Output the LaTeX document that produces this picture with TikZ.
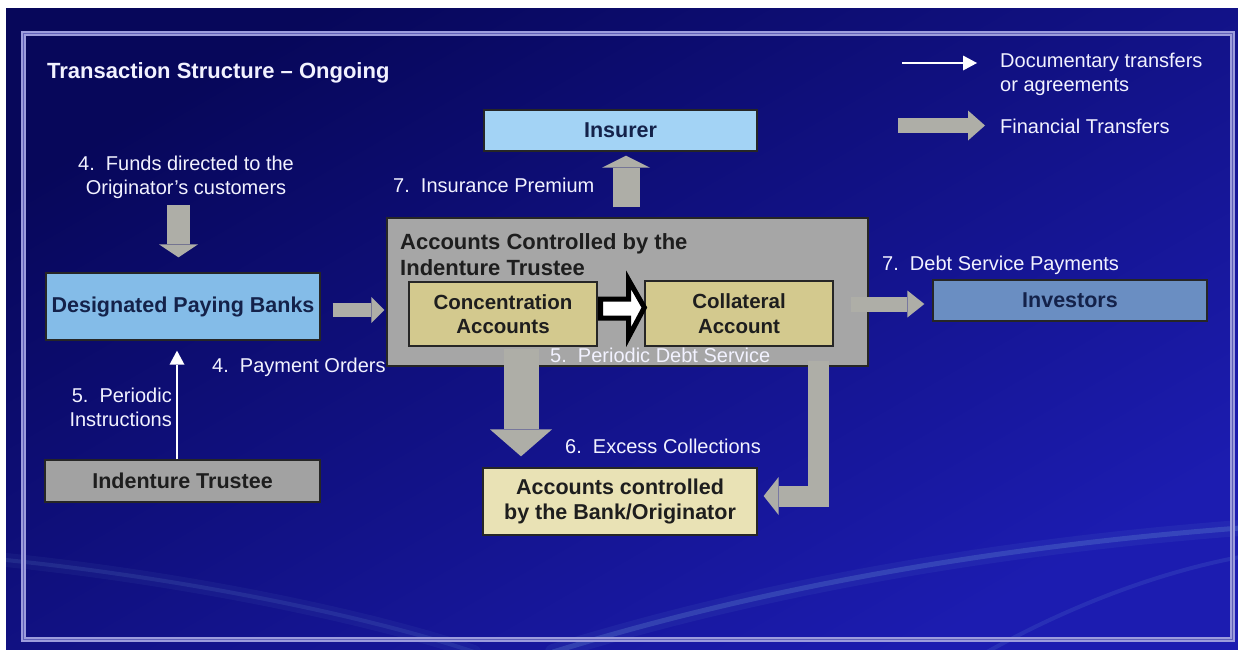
\documentclass[tikz,border=0pt]{standalone}
\usepackage{fontspec}
\setmainfont{Liberation Sans}
\usetikzlibrary{arrows.meta,calc}
\definecolor{bgtop}{HTML}{07075A}
\definecolor{bgbot}{HTML}{1C1CB0}
\definecolor{framec}{HTML}{9C9CDC}
\definecolor{framein}{HTML}{6060B8}
\definecolor{insblue}{HTML}{A3D3F5}
\definecolor{dpbblue}{HTML}{84BCE8}
\definecolor{invblue}{HTML}{6A8EC2}
\definecolor{navytext}{HTML}{14224A}
\definecolor{boxgray}{HTML}{A6A6A6}
\definecolor{trgray}{HTML}{A2A2A2}
\definecolor{khaki}{HTML}{D3C98E}
\definecolor{palekhaki}{HTML}{E9E2B5}
\definecolor{arrowgray}{HTML}{AEAEA7}
\definecolor{labelwhite}{HTML}{F2F2FF}
\definecolor{darktext}{HTML}{1E1E1E}
\definecolor{swooshc}{HTML}{7BB0E0}
\begin{document}
\begin{tikzpicture}[x=1pt,y=-1pt,
  box/.style={draw=black!85, line width=1.3pt, inner sep=0pt, align=center,
     font=\fontsize{21.5}{25}\selectfont\bfseries, text=darktext},
  ibox/.style={box, font=\fontsize{20.5}{24.5}\selectfont\bfseries},
  lbl/.style={text=labelwhite, inner sep=0pt, font=\fontsize{20}{24}\selectfont},
  slbl/.style={lbl, anchor=west, text height=14pt, text depth=0pt},
  fin/.style n args={3}{draw=arrowgray, line width=#1, line cap=butt,
     -{Triangle[width=#2,length=#3,line width=0pt]}},
  doc/.style={draw=white, line width=2pt, -{Triangle[width=15pt,length=14pt,line width=0pt]}},
  swoosh/.style={draw=swooshc, line cap=round}
]
\useasboundingbox (0,0) rectangle (1238,649);
\fill[white] (0,0) rectangle (1238,649);
\shade[top color=bgtop, bottom color=bgbot, shading angle=30] (6,8) rectangle (1238,649);
% background swooshes
\begin{scope}
  \clip (6,8) rectangle (1238,649);
  \draw[swoosh, line width=16pt, opacity=0.08] (553,652) .. controls (720,600) and (950,550) .. (1240,528);
  \draw[swoosh, line width=5pt, opacity=0.22] (553,652) .. controls (720,600) and (950,550) .. (1240,528);
  \draw[swoosh, line width=14pt, opacity=0.06] (6,560) .. controls (200,580) and (380,620) .. (474,652);
  \draw[swoosh, line width=4pt, opacity=0.12] (6,560) .. controls (200,580) and (380,620) .. (474,652);
  \draw[swoosh, line width=4pt, opacity=0.13] (987,652) .. controls (1080,600) and (1170,570) .. (1240,557);
\end{scope}
% frame
\draw[framec, line width=1.8pt, double=framein, double distance=1.2pt] (23.5,33.5) rectangle (1232.5,639.5);

% title and legend
\node[anchor=base west, inner sep=0pt, font=\fontsize{22}{26}\selectfont\bfseries, text=labelwhite] (title) at (47,78) {Transaction Structure – Ongoing};
\coordinate (lw1) at (902,63); \coordinate (lw2) at (977,63);
\draw[doc] (lw1) -- (lw2);
\node[lbl, anchor=north west, align=left] (ldoc) at (1000,53) {Documentary transfers\\or agreements};
\coordinate (lg1) at (898,125.5); \coordinate (lg2) at (985,125.5);
\draw[fin={15pt}{30pt}{17pt}] (lg1) -- (lg2);
\node[slbl] (lfin) at (1000,126) {Financial Transfers};

% boxes
\node[box, fill=insblue, text=navytext, minimum width=273pt, minimum height=41pt] (ins) at (620.5,130.5) {Insurer};
\node[box, fill=dpbblue, text=navytext, minimum width=274pt, minimum height=67pt] (dpb) at (183,306.5) {Designated Paying Banks};
\node[box, fill=boxgray, minimum width=481pt, minimum height=148pt] (trust) at (627.5,292) {};
\node[anchor=north west, inner sep=0pt, align=left, font=\fontsize{22}{26}\selectfont\bfseries, text=darktext] (trusthead) at (400,233) {Accounts Controlled by the\\Indenture Trustee};
\node[ibox, fill=khaki, minimum width=188pt, minimum height=64pt] (conc) at (503,314) {Concentration\\Accounts};
\node[ibox, fill=khaki, minimum width=188pt, minimum height=65pt] (coll) at (739,313.5) {Collateral\\Account};
\node[box, fill=invblue, text=navytext, minimum width=274pt, minimum height=41pt] (inv) at (1070,300.5) {Investors};
\node[box, fill=trgray, minimum width=275pt, minimum height=42pt] (itr) at (182.5,481) {Indenture Trustee};
\node[box, fill=palekhaki, minimum width=274pt, minimum height=67pt] (acb) at (620,501.5) {Accounts controlled\\by the Bank/Originator};

% financial transfers
\coordinate (fundsrc) at (178.5,205);
\draw[fin={23pt}{39pt}{13pt}] (fundsrc) -- ($(fundsrc |- dpb.north)+(0,-15)$);
\draw[fin={14pt}{26pt}{13pt}] ($(dpb.east)+(12,3.5)$) -- ($(trust.west |- dpb.east)+(-2,3.5)$);
\draw[fin={27pt}{48pt}{12pt}] ($(trust.north)+(-1.5,-10)$) -- ($(trust.north |- ins.south)+(-1.5,4)$);
\draw[fin={15pt}{27pt}{17pt}] ($(coll.east)+(17,-9.5)$) -- ($(inv.west)+(-8,3.5)$);
\coordinate (exs) at ($(conc.south)+(18,2)$);
\draw[fin={35pt}{62pt}{27pt}] (exs) -- ($(exs |- acb.north)+(0,-11)$);
\coordinate (els) at ($(coll.south)+(79,14)$);
\draw[fin={21pt}{38pt}{15pt}, line join=miter] (els) |- ($(acb.east)+(6,-5.5)$);
% concentration -> collateral
\draw[line width=5pt, fill=white, draw=black, line join=miter]
  ($(conc.east)+(3,-15)$) -- ++(28,0) -- ++(0,-19) -- ($(coll.west)+(0,-6)$)
  -- ($(conc.east)+(31,23)$) -- ++(0,-19) -- ++(-28,0) -- cycle;

% documentary transfer
\coordinate (pis) at ($(itr.north)+(-5.5,0)$);
\draw[doc] (pis) -- ($(pis |- dpb.south)+(0,10)$);

% labels
\node[lbl, anchor=north, align=center] (lfunds) at (186,156) {4.\ \ Funds directed to the\\Originator's customers};
\node[lbl, anchor=north east, align=right] (lpi) at (172,388) {5.\ \ Periodic\\Instructions};
\node[slbl] (lprem) at (393,185) {7.\ \ Insurance Premium};
\node[slbl] (lpay) at (212,365) {4.\ \ Payment Orders};
\node[slbl] (ldebt) at (550,355) {5.\ \ Periodic Debt Service};
\node[slbl] (lexc) at (565,446) {6.\ \ Excess Collections};
\node[slbl] (ldsp) at (882,263) {7.\ \ Debt Service Payments};
\end{tikzpicture}
\end{document}
